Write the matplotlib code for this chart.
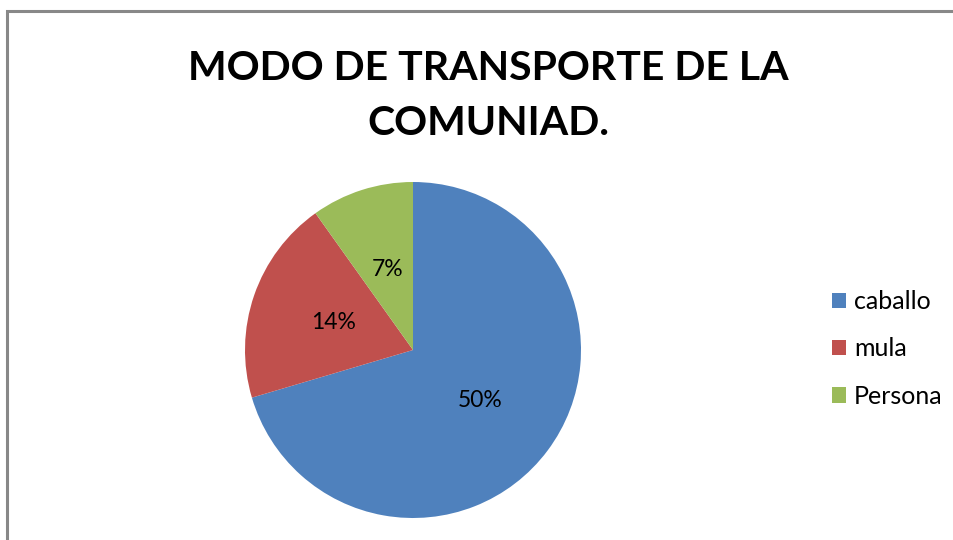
import matplotlib
matplotlib.use('Agg')
import matplotlib.pyplot as plt
from matplotlib.patches import Rectangle

categories = ['caballo', 'mula', 'Persona']
values = [50, 14, 7]
colors = ['#4F81BD', '#C0504D', '#9BBB59']
title = 'MODO DE TRANSPORTE DE LA\nCOMUNIAD.'

plt.rcParams['font.family'] = ['Lato', 'DejaVu Sans']

W, H = 954, 540
fig = plt.figure(figsize=(W / 100, H / 100), dpi=100)
fig.patch.set_facecolor('white')

# gray chart border (runs off the right and bottom edges)
fig.patches.append(Rectangle((7.5 / W, -0.05), 1.2, 1 - 10.5 / H + 0.05,
                             transform=fig.transFigure, fill=False,
                             edgecolor='#888888', linewidth=2.2))

fig.text(488 / W, 1 - 96 / H, title, ha='center', va='center',
         fontsize=29.5, fontweight='bold', color='black', linespacing=1.6)

r = 168
ax = fig.add_axes([(413 - r) / W, (H - 350 - r) / H, 2 * r / W, 2 * r / H])
total = sum(values)
wedges, texts, autotexts = ax.pie(
    values, colors=colors, startangle=90, counterclock=False,
    autopct=lambda p: f'{p * total / 100:.0f}%', pctdistance=0.5,
    wedgeprops=dict(linewidth=0), textprops=dict(fontsize=16.5, color='black'))
ax.set_xlim(-1, 1)
ax.set_ylim(-1, 1)

ax.legend(wedges, categories, loc='center left',
          bbox_to_anchor=(810 / W, 1 - 349 / H), bbox_transform=fig.transFigure,
          frameon=False, fontsize=18, handlelength=0.56, handleheight=0.56,
          handletextpad=0.3, labelspacing=0.97)

fig.savefig('out.png', dpi=100)
